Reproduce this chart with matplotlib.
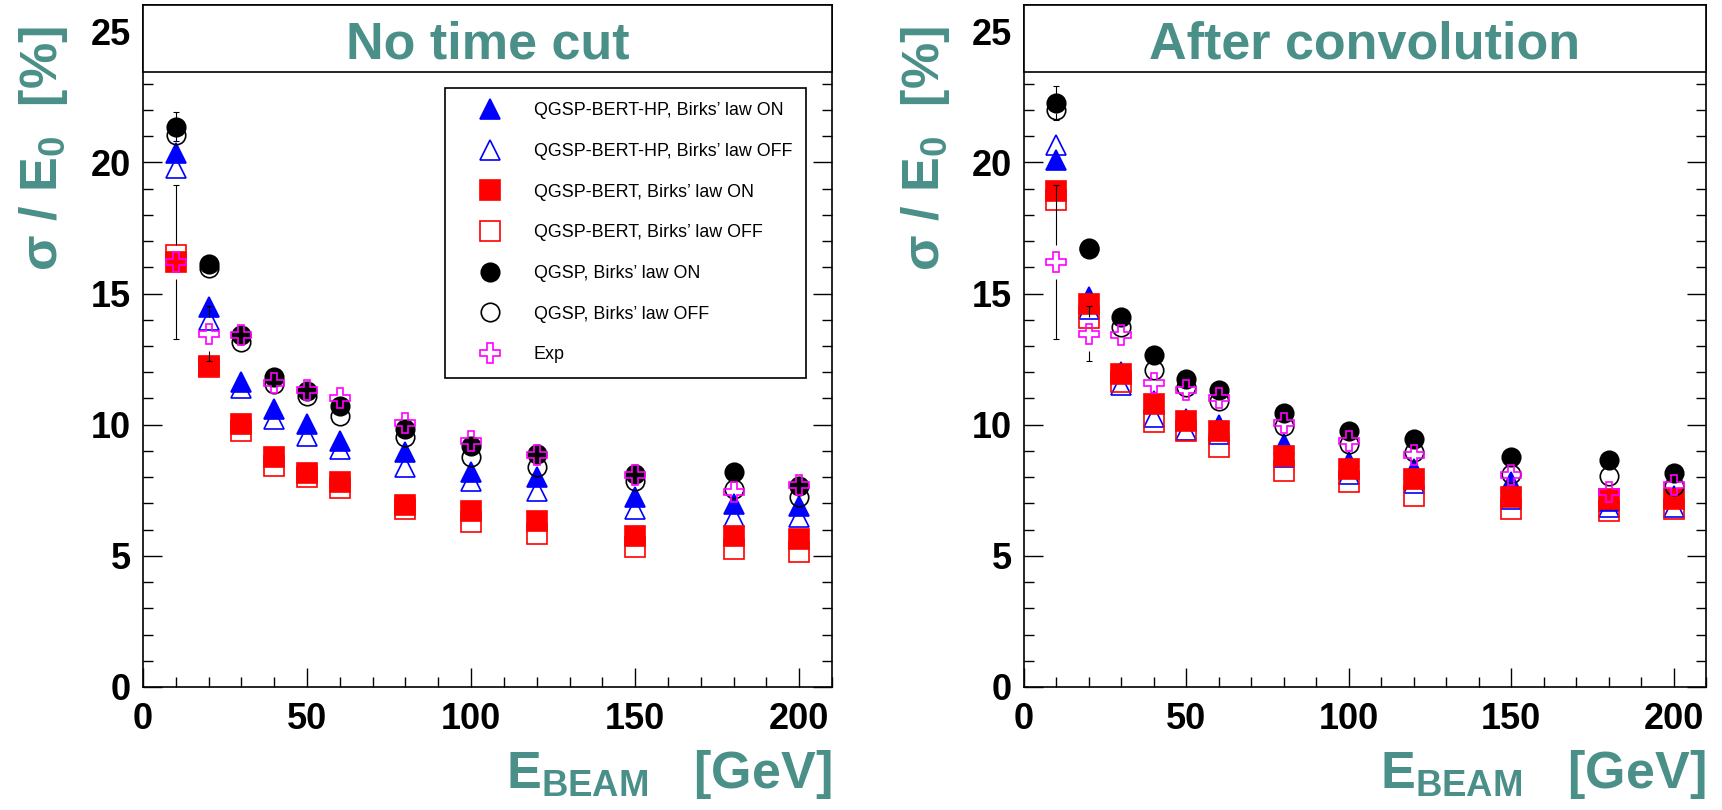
import matplotlib
matplotlib.use("Agg")
import matplotlib.pyplot as plt
from matplotlib.patches import Rectangle
from matplotlib.ticker import MultipleLocator

plt.rcParams['font.family'] = ['Liberation Sans', 'DejaVu Sans']
plt.rcParams['font.weight'] = 'bold'
plt.rcParams['axes.labelweight'] = 'bold'
plt.rcParams['mathtext.fontset'] = 'custom'
plt.rcParams['mathtext.bf'] = 'Liberation Sans:bold'
plt.rcParams['mathtext.rm'] = 'Liberation Sans:bold'
plt.rcParams['mathtext.it'] = 'Liberation Sans:bold'
plt.rcParams['mathtext.default'] = 'bf'

TEAL = '#4a9088'

# ---------------- data ----------------
energy = [10, 20, 30, 40, 50, 60, 80, 100, 120, 150, 180, 200]

labels = ["QGSP-BERT-HP, Birks\u2019 law ON",
          "QGSP-BERT-HP, Birks\u2019 law OFF",
          "QGSP-BERT, Birks\u2019 law ON",
          "QGSP-BERT, Birks\u2019 law OFF",
          "QGSP, Birks\u2019 law ON",
          "QGSP, Birks\u2019 law OFF",
          "Exp"]

# No time cut
nc_hp_on = [20.35, 14.49, 11.64, 10.60, 10.03, 9.39, 8.95, 8.18, 7.99, 7.23, 6.98, 6.91]
nc_hp_off = [19.77, 13.98, 11.40, 10.22, 9.58, 9.07, 8.37, 7.87, 7.48, 6.79, 6.47, 6.47]
nc_bert_on = [16.20, 12.25, 10.03, 8.75, 8.14, 7.80, 6.95, 6.72, 6.34, 5.77, 5.77, 5.64]
nc_bert_off = [16.46, 12.20, 9.77, 8.44, 7.99, 7.60, 6.79, 6.28, 5.83, 5.32, 5.26, 5.13]
nc_qgsp_on = [21.36, 16.12, 13.42, 11.83, 11.30, 10.72, 9.83, 9.20, 8.88, 8.12, 8.18, 7.67]
nc_qgsp_off = [21.04, 15.99, 13.14, 11.55, 11.10, 10.34, 9.54, 8.75, 8.37, 7.87, 7.55, 7.23]
nc_qgsp_on_err = [0.55, 0.15, 0.12, 0.10, 0.10, 0.10, 0.08, 0.08, 0.08, 0.07, 0.07, 0.07]

# After convolution
ac_hp_on = [20.09, 14.87, 12.00, 10.90, 10.22, 10.00, 9.26, 8.56, 8.31, 7.80, 7.10, 7.30]
ac_hp_off = [20.66, 14.40, 11.50, 10.30, 9.80, 9.64, 8.75, 8.12, 7.78, 7.17, 6.85, 6.85]
ac_bert_on = [18.92, 14.62, 11.93, 10.79, 10.15, 9.77, 8.82, 8.31, 7.93, 7.23, 7.17, 7.17]
ac_bert_off = [18.56, 14.07, 11.61, 10.09, 9.77, 9.14, 8.25, 7.80, 7.29, 6.79, 6.72, 6.79]
ac_qgsp_on = [22.25, 16.72, 14.12, 12.64, 11.74, 11.32, 10.43, 9.77, 9.45, 8.75, 8.67, 8.14]
ac_qgsp_off = [22.00, 16.68, 13.71, 12.10, 11.42, 10.91, 9.96, 9.26, 8.95, 8.12, 8.06, 7.67]
ac_qgsp_on_err = [0.65, 0.15, 0.12, 0.10, 0.10, 0.10, 0.08, 0.08, 0.08, 0.07, 0.07, 0.07]

# Experiment (same in both panels)
exp_val = [16.20, 13.46, 13.43, 11.60, 11.31, 11.03, 10.06, 9.36, 8.86, 8.10, 7.45, 7.70]
exp_err = [2.95, 1.05, 0.30, 0.25, 0.25, 0.25, 0.25, 0.25, 0.20, 0.20, 0.20, 0.20]

titles = ["No time cut", "After convolution"]

# ---------------- style ----------------
styles = [  # marker, colour, filled, size(pt)
    ('^', '#0000ff', True, 14.4),
    ('^', '#0000ff', False, 14.4),
    ('s', '#ff0000', True, 14.4),
    ('s', '#ff0000', False, 14.4),
    ('o', '#000000', True, 13.3),
    ('o', '#000000', False, 13.3),
    ('P', '#ff00ff', False, 15.0),
]

W, H = 1722, 810
fig = plt.figure(figsize=(W / 100, H / 100), dpi=100)
y_bot = 687
y_top = 5
axL = fig.add_axes([143 / W, (H - y_bot) / H, (832 - 143) / W, (y_bot - y_top) / H])
axR = fig.add_axes([1024 / W, (H - y_bot) / H, (1706 - 1024) / W, (y_bot - y_top) / H])


def draw_errors(ax, xs, ys, errs, gap_pt, cap_pt=5.0):
    # error bars drawn outside the marker area (ROOT style)
    p0 = ax.transData.transform((0, 0))[1]
    p1 = ax.transData.transform((0, 1))[1]
    px_per_unit = p1 - p0
    gap = gap_pt * fig.dpi / 72.0 / px_per_unit
    for x, y, e in zip(xs, ys, errs):
        if e <= gap:
            continue
        ax.vlines([x, x], [y + gap, y - e], [y + e, y - gap], colors='black', lw=0.8, zorder=6)
        ax.plot([x, x], [y + e, y - e], ls='none', marker='_', ms=cap_pt, mew=0.8,
                color='black', zorder=6)


def panel(ax, series, qgsp_err, title, with_legend):
    ax.set_xlim(0, 210)
    ax.set_ylim(0, 26)
    handles = []
    for i, (vals, (mk, col, filled, ms)) in enumerate(zip(series, styles)):
        h, = ax.plot(energy, vals, ls='none', marker=mk, ms=ms,
                     mfc=col if filled else 'none', mec=col, mew=1.2,
                     label=labels[i], zorder=3 + i * 0.1)
        handles.append(h)
    draw_errors(ax, energy, series[4], qgsp_err, gap_pt=6.6)
    draw_errors(ax, energy, exp_val, exp_err, gap_pt=12.0)

    ax.xaxis.set_major_locator(MultipleLocator(50))
    ax.xaxis.set_minor_locator(MultipleLocator(10))
    ax.yaxis.set_major_locator(MultipleLocator(5))
    ax.yaxis.set_minor_locator(MultipleLocator(1))
    ax.tick_params(which='both', direction='in', right=True, top=False, width=1.0)
    ax.tick_params(which='major', length=14, labelsize=26)
    ax.tick_params(which='minor', length=7.2)
    ax.tick_params(axis='x', which='major', pad=11)
    ax.tick_params(axis='y', which='major', pad=8.6)
    for s in ax.spines.values():
        s.set_linewidth(1.2)

    # title box
    ax.add_patch(Rectangle((0, 23.43), 210, 26 - 23.43, facecolor='white',
                           edgecolor='black', lw=1.2, zorder=8, clip_on=False))
    ax.text(105, 23.97, title, ha='center', va='baseline', fontsize=37.5,
            color=TEAL, fontweight='bold', zorder=9)

    xl = ax.set_xlabel(r'$E_{BEAM}$   [GeV]', fontsize=37.5, color=TEAL, fontweight='bold')
    xl.set_horizontalalignment('right')
    xl.set_verticalalignment('baseline')
    ax.xaxis.set_label_coords(1.0, -0.148)

    yl = ax.set_ylabel(r'σ / $E_0$  [%]', fontsize=37.5, color=TEAL, fontweight='bold')
    yl.set_verticalalignment('baseline')
    yl.set_horizontalalignment('center')
    ax.yaxis.set_label_coords(-0.1248, 0.790)

    if with_legend:
        leg = ax.legend(handles=handles, loc='upper left', bbox_to_anchor=(0.4383, 0.8783),
                        borderaxespad=0, borderpad=0.8, handlelength=3.4,
                        handletextpad=0.75, labelspacing=1.32, numpoints=1,
                        fancybox=False, framealpha=1, edgecolor='black',
                        prop={'family': 'Liberation Sans', 'weight': 'normal', 'size': 12.9})
        leg.get_frame().set_linewidth(1.2)
        leg.set_zorder(10)


panel(axL, [nc_hp_on, nc_hp_off, nc_bert_on, nc_bert_off, nc_qgsp_on, nc_qgsp_off, exp_val],
      nc_qgsp_on_err, titles[0], True)
panel(axR, [ac_hp_on, ac_hp_off, ac_bert_on, ac_bert_off, ac_qgsp_on, ac_qgsp_off, exp_val],
      ac_qgsp_on_err, titles[1], False)

fig.savefig('out.png', dpi=100)
